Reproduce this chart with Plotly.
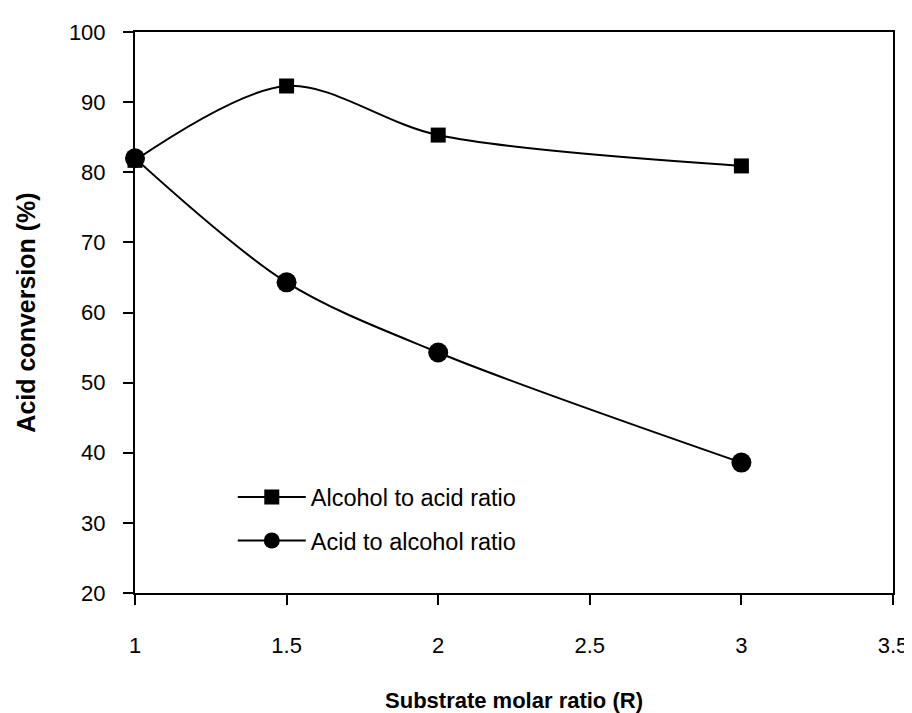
import plotly.graph_objects as go

ratio = [1, 1.5, 2, 3]
alcohol_to_acid = [81.7, 92.3, 85.3, 80.9]
acid_to_alcohol = [82.0, 64.3, 54.3, 38.6]

x_ticks = [1, 1.5, 2, 2.5, 3, 3.5]
x_tick_text = ["1", "1.5", "2", "2.5", "3", "3.5"]
y_ticks = [20, 30, 40, 50, 60, 70, 80, 90, 100]

FONT = "Liberation Sans, Arial, sans-serif"

fig = go.Figure()
fig.add_trace(go.Scatter(
    x=ratio, y=alcohol_to_acid, name="Alcohol to acid ratio",
    mode="lines+markers", line=dict(color="black", width=2, shape="spline", smoothing=0.9),
    marker=dict(symbol="square", size=15, color="black"),
    cliponaxis=False, legendgroup="a",
))
fig.add_trace(go.Scatter(
    x=ratio, y=acid_to_alcohol, name="Acid to alcohol ratio",
    mode="lines+markers", line=dict(color="black", width=2, shape="spline", smoothing=0.9),
    marker=dict(symbol="circle", size=20, color="black"),
    cliponaxis=False, legendgroup="b",
))

fig.update_layout(
    width=912, height=713,
    margin=dict(l=127, r=17, t=21, b=122),
    paper_bgcolor="white", plot_bgcolor="white",
    font=dict(family=FONT, size=22, color="black"),
    showlegend=True,
    legend=dict(x=0.129, y=0.21, xanchor="left", yanchor="top",
                bgcolor="rgba(0,0,0,0)", font=dict(size=23.5),
                itemwidth=68,
                tracegroupgap=10, traceorder="grouped"),
    xaxis=dict(range=[1, 3.5], tickvals=x_ticks, ticktext=x_tick_text,
               showgrid=False, zeroline=False, showline=True, linecolor="black",
               linewidth=2, mirror=True, ticks="outside", ticklen=10, tickwidth=2,
               tickcolor="black", ticklabelstandoff=22,
               tickfont=dict(size=22),
               title=dict(text="<b>Substrate molar ratio (R)</b>", standoff=35,
                          font=dict(size=22))),
    yaxis=dict(range=[20, 100], tickvals=y_ticks,
               showgrid=False, zeroline=False, showline=True, linecolor="black",
               linewidth=2, mirror=True, ticks="outside", ticklen=10, tickwidth=2,
               tickcolor="black", ticklabelstandoff=13,
               tickfont=dict(size=22),
               title=dict(text="<b>Acid conversion (%)</b>", standoff=26,
                          font=dict(size=25))),
)

fig.write_html("out.html")
